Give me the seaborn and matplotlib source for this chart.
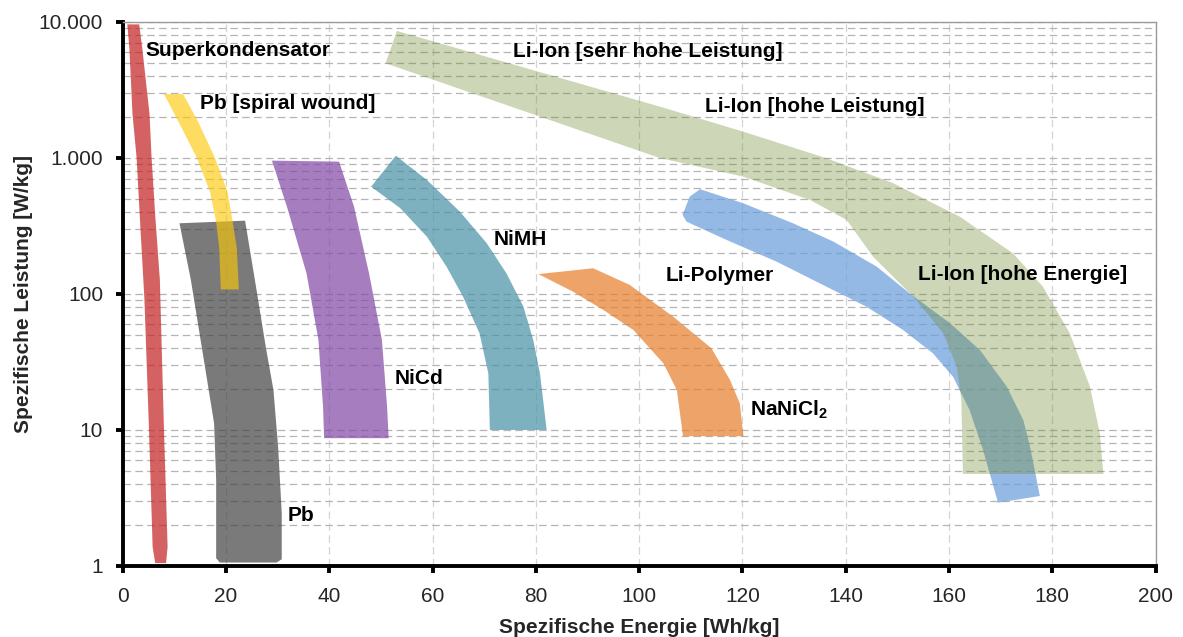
import matplotlib
matplotlib.use("Agg")
import matplotlib.pyplot as plt
import seaborn as sns
from matplotlib.ticker import LogLocator, FuncFormatter, MultipleLocator

# Ragone-Diagramm: Flächen als Umrisse (Energie in Wh/kg, Leistung in W/kg)
superkond_e = [0.9, 1.3, 1.9, 2.7, 3.3, 4.2, 5.1, 5.8, 6.3, 8.4, 8.7, 8.0, 7.2, 6.3, 5.6, 5.2, 3.8, 3.2]
superkond_p = [9600, 6400, 2100, 1000, 380, 93, 10, 1.38, 1.05, 1.05, 1.38, 10, 127, 380, 1000, 2100, 6400, 9600]

pb_e = [11.0, 13.2, 15.3, 17.7, 18.1, 18.1, 18.8, 29.8, 30.8, 30.8, 30.1, 29.2, 27.7, 25.6, 23.7]
pb_p = [331, 127, 41, 11.2, 4.3, 1.14, 1.06, 1.06, 1.12, 2.45, 7.5, 19.6, 41, 127, 346]

spiral_e = [8.0, 10.8, 14.4, 16.9, 18.1, 18.7, 19.0, 22.5, 22.1, 21.3, 20.3, 17.9, 14.6, 11.7]
spiral_p = [2950, 1850, 995, 565, 340, 217, 108, 108, 217, 340, 565, 995, 1850, 2950]

nicd_e = [28.9, 31.8, 35.6, 37.9, 38.8, 39.0, 51.5, 51.2, 50.2, 47.7, 44.8, 41.9]
nicd_p = [956, 439, 142, 45.9, 14.8, 8.7, 8.7, 14.8, 45.9, 142, 439, 940]

nimh_e = [52.9, 58.9, 65.3, 70.5, 74.3, 77.6, 79.5, 80.8, 82.1, 71.1, 70.8, 69.1, 65.9, 62.7, 58.9, 53.7, 48.1]
nimh_p = [1040, 689, 403, 236, 142, 80.7, 45.9, 26.1, 10, 10, 26.1, 51.4, 95.5, 159, 264, 429, 615]

nanicl_e = [80.5, 87.2, 93.1, 98.9, 104.7, 107.3, 108.5, 120.2, 119.5, 117.6, 114.0, 106.6, 98.2, 91.1]
nanicl_p = [140, 104, 76.2, 54.3, 30.9, 19.7, 9.0, 9.0, 15.7, 23.3, 39.9, 68.1, 116.5, 154.6]

lipo_e = [111.8, 120.2, 129.8, 137.6, 146.0, 152.4, 160.2, 166.0, 171.2, 174.4, 175.7, 177.6,
          169.5, 166.6, 164.0, 160.8, 156.9, 151.1, 144.0, 136.3, 126.6, 116.9, 109.2, 108.4, 109.8]
lipo_p = [589, 464, 331, 243, 159, 101, 61, 38.7, 20.8, 11.8, 7.54, 3.27,
          2.92, 7.13, 14.0, 24.6, 36.6, 54.4, 80.7, 113, 173, 250, 340, 381, 520]

liion_e = [53.1, 104.0, 120.2, 136.3, 149.2, 162.1, 172.4, 178.2, 183.4, 187.3, 189.2, 189.9,
           162.7, 162.4, 161.5, 158.9, 153.1, 149.2, 145.3, 140.2, 133.1, 120.2, 104.0, 50.9]
liion_p = [8590, 2385, 1560, 995, 652, 370, 199, 113, 51.4, 20.8, 9.46, 4.75,
           4.75, 16.6, 29.2, 51.4, 95.5, 134, 188, 350, 491, 729, 1000, 4970]

label_text = ["Superkondensator", "Pb [spiral wound]", "Li-Ion [sehr hohe Leistung]",
              "Li-Ion [hohe Leistung]", "NiMH", "Li-Polymer", "Li-Ion [hohe Energie]",
              "NiCd", "NaNiCl$_2$", "Pb"]
label_e = [4.5, 15.0, 75.6, 112.7, 71.9, 105.2, 154.0, 52.7, 121.5, 31.9]
label_p = [6120, 2495, 6050, 2385, 250, 136, 138, 24, 14, 2.37]

y_ticks = [1, 10, 100, 1000, 10000]
x_ticks = list(range(0, 201, 20))


def main():
    sns.set_theme(style="white")
    plt.rcParams["font.family"] = ["Liberation Sans", "DejaVu Sans"]
    plt.rcParams["mathtext.fontset"] = "custom"
    plt.rcParams["mathtext.bf"] = "Liberation Sans:bold"
    plt.rcParams["mathtext.rm"] = "Liberation Sans:bold"
    plt.rcParams["mathtext.default"] = "bf"

    fig = plt.figure(figsize=(11.83, 6.37), dpi=100)
    ax = fig.add_axes([0.1037, 0.1115, 0.8731, 0.854])

    # (energie, leistung, farbe, alpha) - Reihenfolge = Zeichenreihenfolge
    bands = [
        (superkond_e, superkond_p, (0.77, 0.12, 0.12), 0.7),
        (pb_e, pb_p, (0.26, 0.26, 0.26), 0.7),
        (spiral_e, spiral_p, (0.99, 0.79, 0.02), 0.63),
        (nicd_e, nicd_p, (0.50, 0.28, 0.65), 0.7),
        (nimh_e, nimh_p, (0.28, 0.57, 0.65), 0.7),
        (nanicl_e, nanicl_p, (0.91, 0.49, 0.16), 0.7),
        (lipo_e, lipo_p, (0.41, 0.61, 0.86), 0.7),
        (liion_e, liion_p, (0.44, 0.54, 0.18), 0.35),
    ]
    for e, p, c, a in bands:
        ax.fill(e, p, color=c, alpha=a, lw=0, zorder=2)

    for t, e, p in zip(label_text, label_e, label_p):
        ax.text(e, p, t, fontsize=15, fontweight="bold", ha="left", va="center",
                color="black", zorder=5)

    ax.set_yscale("log")
    ax.set_xlim(0, 200)
    ax.set_ylim(1, 10000)
    ax.set_xticks(x_ticks)
    ax.set_yticks(y_ticks)
    ax.yaxis.set_minor_locator(LogLocator(base=10, subs=range(2, 10)))
    ax.yaxis.set_major_formatter(FuncFormatter(lambda v, _: f"{int(round(v)):,}".replace(",", ".")))
    ax.xaxis.set_minor_locator(MultipleLocator(200))

    ax.set_axisbelow(True)
    dash = (0, (6, 3.5))
    ax.grid(which="major", axis="x", color="#d4d4d4", linestyle=dash, lw=0.9)
    ax.grid(which="both", axis="y", color="#b4b4b4", linestyle=dash, lw=0.9)
    ax.xaxis.grid(False, which="minor")

    for side in ["left", "bottom"]:
        ax.spines[side].set_color("black")
        ax.spines[side].set_linewidth(2.8)
    for side in ["top", "right"]:
        ax.spines[side].set_color("#9a9a9a")
        ax.spines[side].set_linewidth(1.0)

    ax.tick_params(which="major", direction="out", length=5, width=2.8, color="black",
                   labelsize=15, left=True, bottom=True, top=False, right=False)
    ax.tick_params(axis="x", which="major", pad=10)
    ax.tick_params(axis="y", which="major", pad=9)
    ax.tick_params(which="minor", length=0)

    ax.set_xlabel("Spezifische Energie [Wh/kg]", fontsize=15, fontweight="bold", labelpad=9)
    ax.set_ylabel("Spezifische Leistung [W/kg]", fontsize=15, fontweight="bold", labelpad=4)

    fig.savefig("out.png", dpi=100)


if __name__ == "__main__":
    main()
